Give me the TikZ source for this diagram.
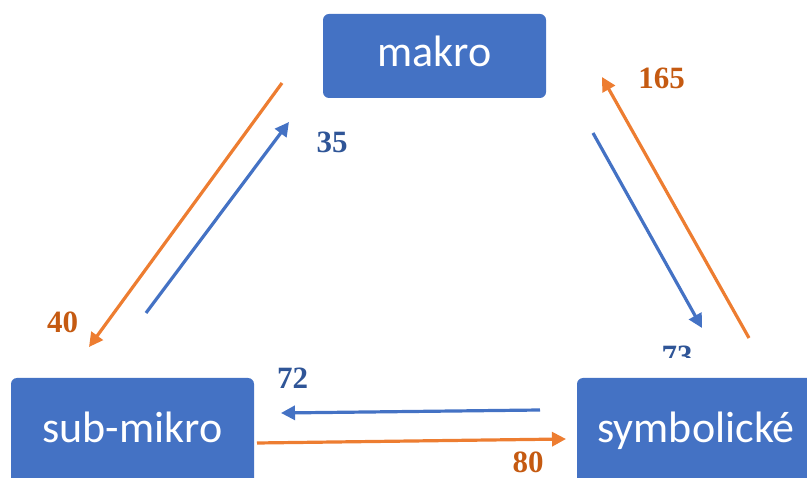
\documentclass[tikz,border=0pt]{standalone}
\usepackage{fontspec}
\newfontfamily\boxfont{Carlito}
\newfontfamily\numfont{Liberation Serif}
\usetikzlibrary{arrows.meta}
\definecolor{boxblue}{HTML}{4472C4}
\definecolor{flowblue}{HTML}{4472C4}
\definecolor{floworange}{HTML}{ED7D31}
\definecolor{numblue}{HTML}{2F5597}
\definecolor{numorange}{HTML}{C55A11}
\tikzset{
  levelbox/.style={fill=boxblue, draw=none, rounded corners=6pt, text=white,
    font=\boxfont\fontsize{44}{48}\selectfont, text height=22pt, text depth=0pt,
    inner sep=0pt},
  flow/.style={line width=3.2pt, -{Triangle[length=14pt,width=14pt]}},
  blueflow/.style={flow, draw=flowblue},
  orangeflow/.style={flow, draw=floworange},
  count/.style={font=\numfont\bfseries\fontsize{31}{34}\selectfont, anchor=base, inner sep=0pt},
}
\begin{document}
\begin{tikzpicture}[x=1pt, y=-1pt]
\useasboundingbox (0,0) rectangle (807,478);
\clip (0,0) rectangle (807,478);

% the three levels
\node[levelbox, minimum width=223pt, minimum height=84pt] (makro) at (434.5,56) {makro};
\node[levelbox, minimum width=243pt, minimum height=108pt] (submikro) at (132.5,432) {sub-mikro};
\node[levelbox, minimum width=238pt, minimum height=108pt] (symbol) at (696,432) {symbolické};

% arrow end points
\coordinate (sm-out) at (146,313);  \coordinate (mk-in) at (289,122);
\coordinate (mk-out) at (282,83);   \coordinate (sm-in) at (89,347);
\coordinate (mk-out2) at (593,133); \coordinate (sy-in) at (702,328);
\coordinate (sy-out) at (749,338);  \coordinate (mk-in2) at (602,77);
\coordinate (sy-out2) at (540,410); \coordinate (sm-in2) at (281,413);
\coordinate (sm-out2) at (257,443); \coordinate (sy-in2) at (566,439);

% transitions between levels
\draw[blueflow] (sm-out) -- (mk-in);
\draw[orangeflow] (mk-out) -- (sm-in);
\draw[blueflow] (mk-out2) -- (sy-in);
\draw[orangeflow] (sy-out) -- (mk-in2);
\draw[blueflow] (sy-out2) -- (sm-in2);
\draw[orangeflow] (sm-out2) -- (sy-in2);

% counts
\node[count, text=numblue] (n35) at (332,153) {35};
\node[count, text=numorange] (n40) at (62.5,333) {40};
\node[count, text=numorange] (n165) at (661.5,89) {165};
\node[count, text=numblue] (n72) at (292.5,389) {72};
\node[count, text=numorange] (n80) at (528,473) {80};
\begin{scope}
  \clip (640,330) rectangle (720,358);
  \node[count, text=numblue] (n73) at (677,367) {73};
\end{scope}
\end{tikzpicture}
\end{document}
